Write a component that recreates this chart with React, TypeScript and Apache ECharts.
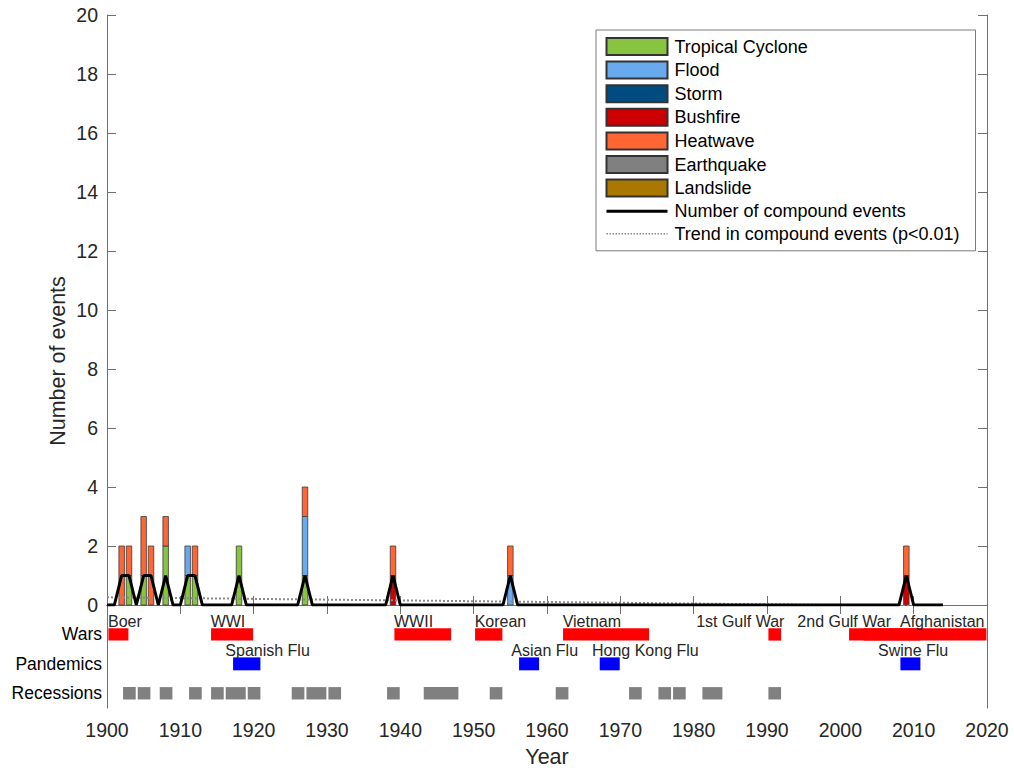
import React, { useEffect, useRef } from "react";
import * as echarts from "echarts";

// ---------------- data ----------------
const eventYears = [1902, 1903, 1905, 1906, 1908, 1911, 1912, 1918, 1927, 1939, 1955, 2009];
const tropicalCyclone = [0, 1, 1, 0, 2, 1, 1, 2, 1, 0, 0, 0];
const flood = [0, 0, 0, 0, 0, 1, 0, 0, 2, 0, 1, 0];
const storm = [0, 0, 0, 0, 0, 0, 0, 0, 0, 0, 0, 0];
const bushfire = [0, 0, 0, 0, 0, 0, 0, 0, 0, 1, 0, 1];
const heatwave = [2, 1, 2, 2, 1, 0, 1, 0, 1, 1, 1, 1];
const earthquake = [0, 0, 0, 0, 0, 0, 0, 0, 0, 0, 0, 0];
const landslide = [0, 0, 0, 0, 0, 0, 0, 0, 0, 0, 0, 0];

const compoundYears = [1900, 1901, 1902, 1903, 1904, 1905, 1906, 1907, 1908, 1909, 1910, 1911, 1912, 1913, 1917, 1918, 1919, 1926, 1927, 1928, 1938, 1939, 1940, 1954, 1955, 1956, 2008, 2009, 2010, 2014];
const compoundValues = [0, 0, 1, 1, 0, 1, 1, 0, 1, 0, 0, 1, 1, 0, 0, 1, 0, 0, 1, 0, 0, 1, 0, 0, 1, 0, 0, 1, 0, 0];

const trendYears = [1900, 2014];
const trendValues = [0.26, -0.04];

const warNames = ["Boer", "WWI", "WWII", "Korean", "Vietnam", "1st Gulf War", "2nd Gulf War", "Afghanistan"];
const warStart = [1900, 1914, 1939, 1950, 1962, 1990, 2003, 2001];
const warEnd = [1903, 1920, 1947, 1954, 1974, 1992, 2011, 2020];

const pandemicNames = ["Spanish Flu", "Asian Flu", "Hong Kong Flu", "Swine Flu"];
const pandemicStart = [1917, 1956, 1967, 2008];
const pandemicEnd = [1921, 1959, 1970, 2011];

const recessionStart = [1902, 1904, 1907, 1911, 1914, 1916, 1919, 1925, 1927, 1930, 1938, 1943, 1952, 1961, 1971, 1975, 1977, 1981, 1990];
const recessionEnd = [1904, 1906, 1909, 1913, 1916, 1919, 1921, 1927, 1930, 1932, 1940, 1948, 1954, 1963, 1973, 1977, 1979, 1984, 1992];

const rowNames = ["Wars", "Pandemics", "Recessions"];
const rowValues = [-1, -2, -3];

const xMin = 1900;
const xMax = 2020;

const seriesNames = ["Tropical Cyclone", "Flood", "Storm", "Bushfire", "Heatwave", "Earthquake", "Landslide"];
const seriesValues = [tropicalCyclone, flood, storm, bushfire, heatwave, earthquake, landslide];
const lineNames = ["Number of compound events", "Trend in compound events (p<0.01)"];

// ---------------- layout / style ----------------
const warLabelAnchor = [1900, 1914, 1939, 1950, 1962, 1980.2, 1994, 2008];
const pandemicLabelAnchor = [1916, 1955, 1966, 2005];

const seriesColors = ["#88C43F", "#69A9EE", "#004C80", "#CC0000", "#FF6633", "#808080", "#AA7700"];
const FONT = "'Liberation Sans', Arial, Helvetica, sans-serif";
const AXIS = "#707070";
const TXT = "#262626";
const BAR_PX = 5.5;

function rectRenderer(color: string, halfH: number) {
  return (params: any, api: any) => {
    const s = api.coord([api.value(0), api.value(2)]);
    const e = api.coord([api.value(1), api.value(2)]);
    const h = api.size([0, halfH * 2])[1];
    return {
      type: "rect",
      shape: { x: s[0] + 1.4, y: s[1] - h / 2, width: e[0] - s[0] - 2, height: h },
      style: { fill: color },
    };
  };
}

function textRenderer(names: string[]) {
  return (params: any, api: any) => {
    const p = api.coord([api.value(0), api.value(1)]);
    return {
      type: "text",
      x: p[0] + 1,
      y: p[1] + 1.5,
      style: {
        text: names[params.dataIndex],
        fontSize: 16,
        fontFamily: FONT,
        fill: TXT,
        align: "left",
        verticalAlign: "middle",
      },
    };
  };
}

function stackedBarRenderer(color: string) {
  return (params: any, api: any) => {
    const year = api.value(0);
    const val = api.value(1);
    const base = api.value(2);
    if (!val) return null;
    const p0 = api.coord([year, base]);
    const p1 = api.coord([year, base + val]);
    return {
      type: "rect",
      shape: { x: p0[0] - BAR_PX / 2, y: p1[1], width: BAR_PX, height: p0[1] - p1[1] },
      style: { fill: color, stroke: "#3a3a3a", lineWidth: 0.8 },
    };
  };
}

export default function App() {
  const ref = useRef<HTMLDivElement>(null);

  useEffect(() => {
    if (!ref.current) return;
    const chart = echarts.init(ref.current, undefined, { renderer: "svg" });

    const barSeries = seriesNames.map((name, i) => {
      const data = eventYears.map((y, j) => {
        let base = 0;
        for (let k = 0; k < i; k++) base += seriesValues[k][j];
        return [y, seriesValues[i][j], base];
      });
      return {
        name,
        type: "custom",
        xAxisIndex: 0,
        yAxisIndex: 0,
        data,
        encode: { x: 0, y: 1 },
        itemStyle: { color: seriesColors[i], borderColor: "#333333", borderWidth: 1.2 },
        renderItem: stackedBarRenderer(seriesColors[i]),
        z: 2,
      };
    });

    const option: any = {
      animation: false,
      backgroundColor: "#ffffff",
      textStyle: { fontFamily: FONT },
      grid: [
        { left: 107, top: 15, width: 880, height: 590 },
        { left: 107, top: 605, width: 880, height: 103 },
      ],
      xAxis: [
        {
          type: "value", gridIndex: 0, min: xMin, max: xMax, interval: 10, position: "bottom",
          axisLine: { show: true, lineStyle: { color: AXIS, width: 1 } },
          axisTick: { show: false }, axisLabel: { show: false }, splitLine: { show: false },
        },
        {
          type: "value", gridIndex: 0, min: xMin, max: xMax, interval: 10, position: "top",
          axisLine: { show: true, lineStyle: { color: AXIS, width: 1 } },
          axisTick: { show: true, inside: true, length: 9, lineStyle: { color: AXIS } },
          axisLabel: { show: false }, splitLine: { show: false },
        },
        {
          type: "value", gridIndex: 1, min: xMin, max: xMax, interval: 10, position: "bottom",
          axisLine: { show: true, lineStyle: { color: AXIS, width: 1 } },
          axisTick: { show: true, inside: true, length: 9, lineStyle: { color: AXIS } },
          axisLabel: {
            show: true, fontSize: 19.5, color: TXT, margin: 12, fontFamily: FONT,
            formatter: (v: number) => String(v),
          },
          splitLine: { show: false },
        },
      ],
      yAxis: [
        {
          type: "value", gridIndex: 0, min: 0, max: 20, interval: 2, position: "left",
          axisLine: { show: true, lineStyle: { color: AXIS, width: 1 } },
          axisTick: { show: true, inside: true, length: 9, lineStyle: { color: AXIS } },
          axisLabel: { show: true, fontSize: 19.5, color: TXT, margin: 9, fontFamily: FONT },
          splitLine: { show: false },
        },
        {
          type: "value", gridIndex: 0, min: 0, max: 20, interval: 2, position: "right",
          axisLine: { show: true, lineStyle: { color: AXIS, width: 1 } },
          axisTick: { show: true, inside: true, length: 9, lineStyle: { color: AXIS } },
          axisLabel: { show: false }, splitLine: { show: false },
        },
        {
          type: "value", gridIndex: 1, min: -3.5, max: 0, position: "left",
          axisLine: { show: true, lineStyle: { color: AXIS, width: 1 } },
          axisTick: { show: false },
          axisLabel: {
            show: true, customValues: rowValues, fontSize: 17.5, color: "#000", margin: 5, fontFamily: FONT,
            formatter: (v: number) => {
              const k = rowValues.indexOf(Math.round(v));
              return k >= 0 ? rowNames[k] : "";
            },
          },
          splitLine: { show: false },
        },
        {
          type: "value", gridIndex: 1, min: -3.5, max: 0, position: "right",
          axisLine: { show: true, lineStyle: { color: AXIS, width: 1 } },
          axisTick: { show: false }, axisLabel: { show: false }, splitLine: { show: false },
        },
      ],
      legend: {
        orient: "vertical",
        left: 596,
        top: 30,
        padding: [7, 16, 8, 9],
        itemWidth: 61,
        itemHeight: 17,
        itemGap: 4.6,
        borderColor: "#7a7a7a",
        borderWidth: 1,
        backgroundColor: "#ffffff",
        textStyle: { fontSize: 18, color: "#000", fontFamily: FONT, padding: [0, 0, 0, 2] },
        data: [
          ...seriesNames.map((n) => ({ name: n, icon: "rect" })),
          { name: lineNames[0], itemStyle: { opacity: 0 }, lineStyle: { width: 3 } },
          { name: lineNames[1], itemStyle: { opacity: 0 }, lineStyle: { width: 1.5 } },
        ],
      },
      series: [
        ...barSeries,
        {
          name: lineNames[0],
          type: "line",
          xAxisIndex: 0,
          yAxisIndex: 0,
          symbol: "none",
          data: compoundYears.map((y, i) => [y, compoundValues[i]]),
          lineStyle: { color: "#000", width: 3 },
          itemStyle: { color: "#000" },
          z: 5,
        },
        {
          name: lineNames[1],
          type: "line",
          xAxisIndex: 0,
          yAxisIndex: 0,
          symbol: "none",
          data: trendYears.map((y, i) => [y, trendValues[i]]),
          lineStyle: { color: "#8a8a8a", width: 2, type: "dotted" },
          itemStyle: { color: "#8a8a8a" },
          z: 4,
        },
        {
          type: "custom", xAxisIndex: 2, yAxisIndex: 2,
          data: warStart.map((s, i) => [s, warEnd[i], rowValues[0]]),
          encode: { x: [0, 1], y: 2 },
          renderItem: rectRenderer("#FF0000", 0.21),
        },
        {
          type: "custom", xAxisIndex: 2, yAxisIndex: 2,
          data: pandemicStart.map((s, i) => [s, pandemicEnd[i], rowValues[1]]),
          encode: { x: [0, 1], y: 2 },
          renderItem: rectRenderer("#0000FF", 0.22),
        },
        {
          type: "custom", xAxisIndex: 2, yAxisIndex: 2,
          data: recessionStart.map((s, i) => [s, recessionEnd[i], rowValues[2]]),
          encode: { x: [0, 1], y: 2 },
          renderItem: rectRenderer("#808080", 0.21),
        },
        {
          type: "custom", xAxisIndex: 2, yAxisIndex: 2,
          data: warLabelAnchor.map((x) => [x, rowValues[0] + 0.5]),
          encode: { x: 0, y: 1 },
          renderItem: textRenderer(warNames),
          z: 6,
        },
        {
          type: "custom", xAxisIndex: 2, yAxisIndex: 2,
          data: pandemicLabelAnchor.map((x) => [x, rowValues[1] + 0.5]),
          encode: { x: 0, y: 1 },
          renderItem: textRenderer(pandemicNames),
          z: 6,
        },
      ],
      graphic: [
        {
          type: "text",
          x: 58,
          y: 361,
          rotation: Math.PI / 2,
          style: {
            text: "Number of events",
            fontSize: 21.5,
            fontFamily: FONT,
            fill: TXT,
            align: "center",
            verticalAlign: "middle",
          },
        },
        {
          type: "text",
          x: 547,
          y: 757,
          style: {
            text: "Year",
            fontSize: 21.5,
            fontFamily: FONT,
            fill: TXT,
            align: "center",
            verticalAlign: "middle",
          },
        },
      ],
    };

    chart.setOption(option);
    return () => chart.dispose();
  }, []);

  return (
    <div
      ref={ref}
      style={{ position: "fixed", left: 0, top: 0, width: 1014, height: 771, background: "#fff" }}
    />
  );
}
